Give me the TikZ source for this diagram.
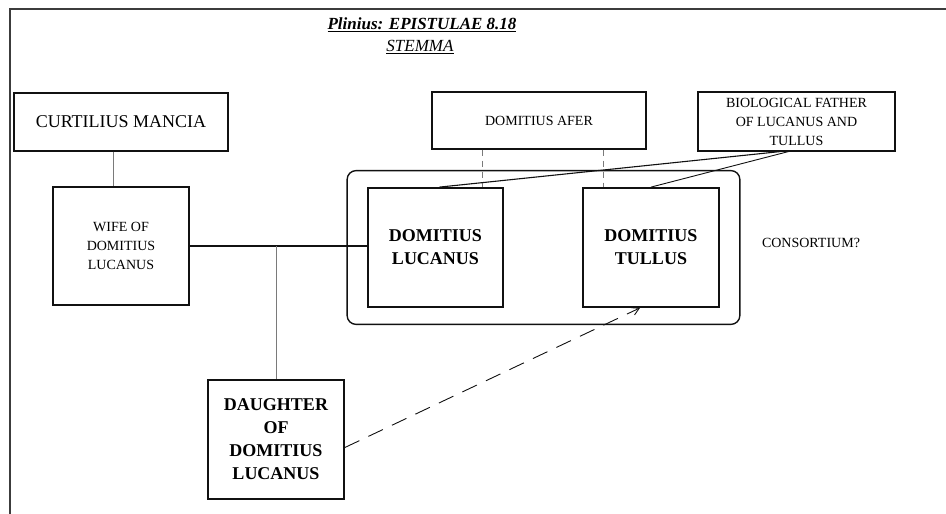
\documentclass[tikz,border=0pt]{standalone}
\usepackage{fontspec}
\setmainfont{Liberation Serif}
\usetikzlibrary{arrows.meta,fit}
\definecolor{ink}{HTML}{111111}
\definecolor{wire}{HTML}{7A7A7A}
\definecolor{frame}{HTML}{3C3C3C}
\newcommand{\bigname}{\fontsize{18}{23}\selectfont\bfseries}
\newcommand{\smallname}{\fontsize{14}{19}\selectfont}
\newcommand{\headline}{\fontsize{17}{20}\selectfont}

\begin{document}
\begin{tikzpicture}[x=1pt,y=-1pt,
  person/.style={draw=ink,line width=1.1pt,align=center,inner sep=2pt,font=\smallname},
  mainperson/.style={draw=ink,line width=1.8pt,align=center,inner sep=2pt,font=\bigname,minimum width=135pt,minimum height=119pt},
  thinline/.style={wire,line width=0.9pt}]
\useasboundingbox (0,0) rectangle (946,514);
\draw[frame,line width=2pt] (10,514) -- (10,9) -- (946,9);
% title
\node (title) at (422,25) {\headline\bfseries\itshape\underline{Plinius: EPISTULAE 8.18}};
\node (subtitle) at (420,47) {\headline\itshape\underline{STEMMA}};
% people
\node[person,font=\fontsize{18}{23}\selectfont,minimum width=214pt,minimum height=58pt] (curt) at (121,122) {CURTILIUS MANCIA};
\node[person,minimum width=136pt,minimum height=118pt] (wife) at (121,246) {WIFE OF\\DOMITIUS\\LUCANUS};
\node[person,minimum width=214pt,minimum height=57pt] (afer) at (539,120.5) {DOMITIUS AFER};
\node[person,minimum width=197pt,minimum height=59pt,inner sep=1pt] (bio) at (796.5,121.5) {BIOLOGICAL FATHER\\OF LUCANUS AND\\TULLUS};
\node[mainperson] (luc) at (435.5,247.5) {DOMITIUS\\LUCANUS};
\node[mainperson,minimum width=136pt] (tul) at (651,247.5) {DOMITIUS\\TULLUS};
\node[mainperson,minimum width=136pt] (dau) at (276,439.5) {DAUGHTER\\OF\\DOMITIUS\\LUCANUS};
\node[draw=ink,line width=1.4pt,rounded corners=9pt,inner xsep=20pt,inner ysep=16.5pt,fit=(luc)(tul)] (consort) {};
\node[font=\smallname] (constext) at (811,243) {CONSORTIUM?};
% links
\draw[thinline] ([xshift=-8pt]curt.south) -- ([xshift=-8pt]wife.north);
\draw[ink,line width=1.6pt] (wife.east) -- (wife.east -| luc.west);
\draw[thinline] (dau.north) -- (dau.north |- wife.east);
\coordinate (aferl) at ([xshift=-57pt]afer.south);
\coordinate (aferr) at ([xshift=64pt]afer.south);
\draw[thinline,dash pattern=on 6pt off 5pt] (aferl) -- (aferl |- luc.north);
\draw[thinline,dash pattern=on 6pt off 5pt] (aferr) -- (aferr |- tul.north);
\draw[ink,line width=1.1pt] ([xshift=-16pt]bio.south) -- ([xshift=4pt]luc.north);
\draw[ink,line width=0.9pt] ([xshift=-8pt]bio.south) -- (tul.north);
\draw[ink,line width=0.9pt,dash pattern=on 16pt off 10pt,-{Straight Barb[length=7pt,width=8pt]}] ([yshift=-8pt]dau.east) -- ([xshift=-11pt]tul.south);
\end{tikzpicture}
\end{document}
